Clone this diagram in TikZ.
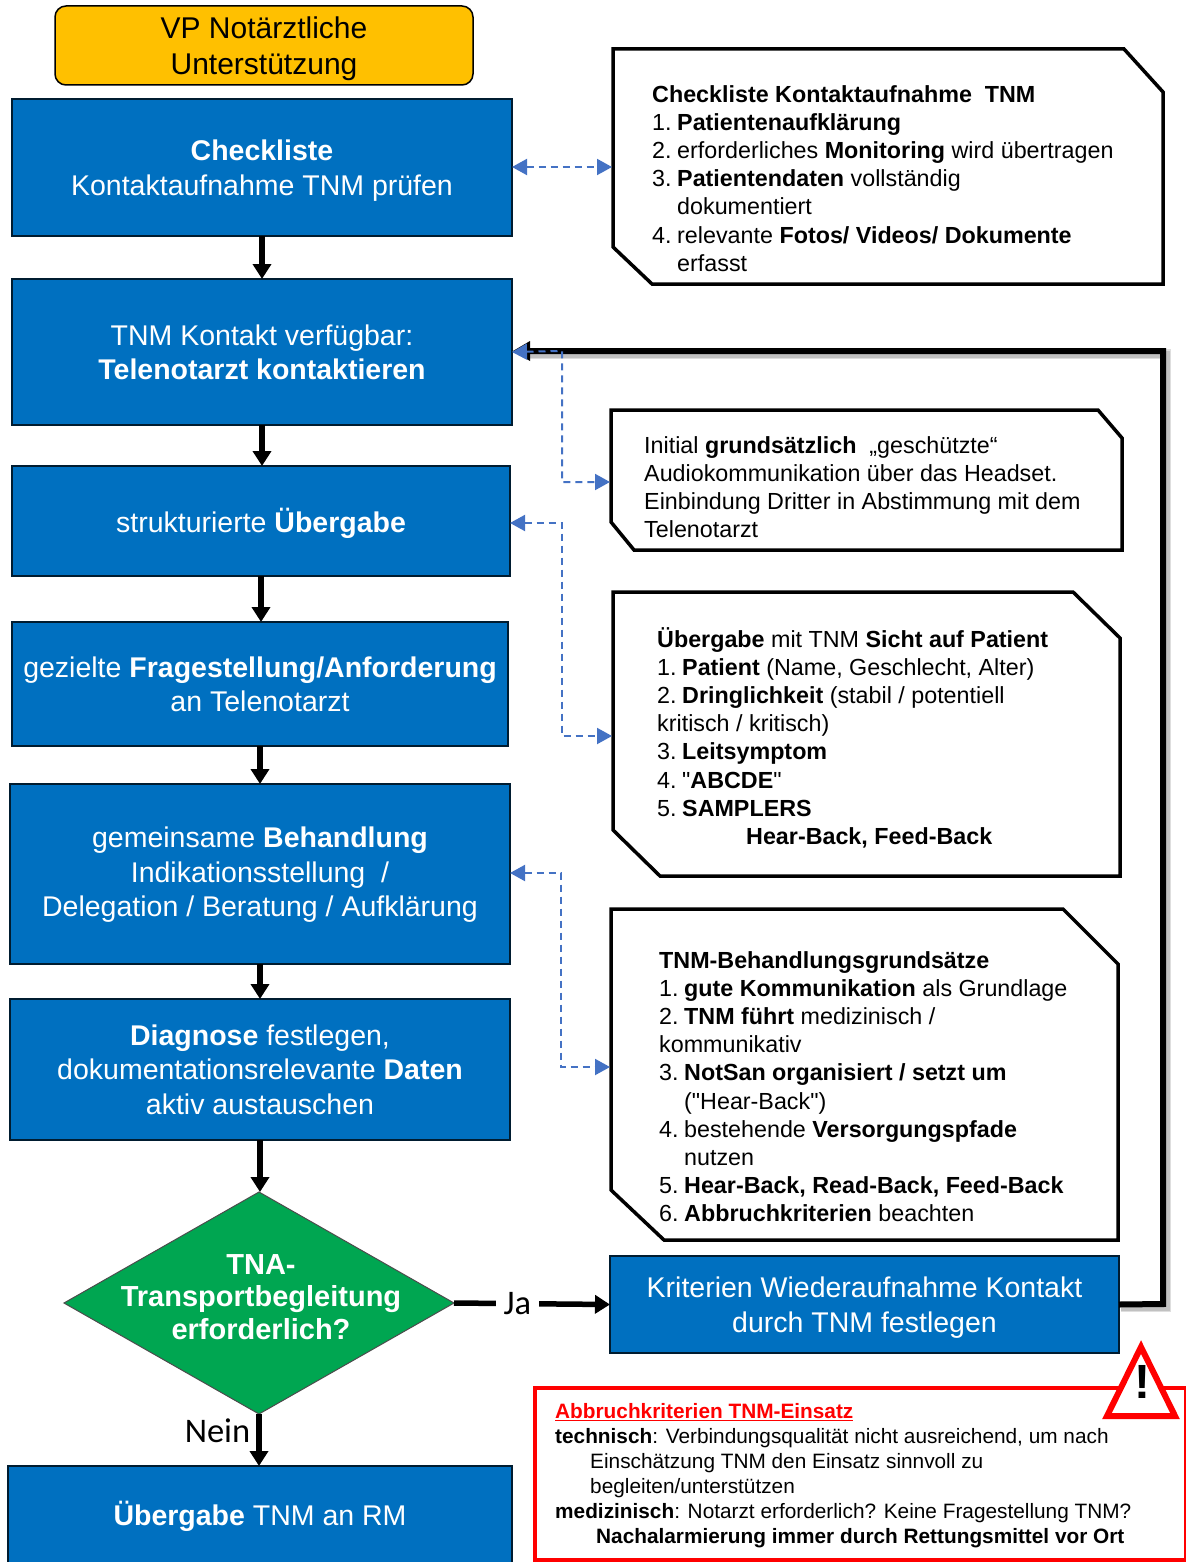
\documentclass[tikz,border=0pt]{standalone}
\usepackage{fontspec}
\setmainfont{Liberation Sans}[Ligatures=TeXOff]
\newfontfamily\carlito{Carlito}
\usepackage{xcolor}
\usetikzlibrary{arrows.meta, shapes.geometric}

\definecolor{boxblue}{HTML}{0070C0}
\definecolor{boxgreen}{HTML}{00A651}
\definecolor{boxorange}{HTML}{FFC000}
\definecolor{dashblue}{HTML}{4472C4}

\newcommand{\nr}[1]{\makebox[25pt][l]{#1}}
\newcommand{\hang}{\hspace*{25pt}}

\tikzset{
  flowbox/.style={rectangle, draw=black!75!boxblue, line width=1.5pt, fill=boxblue, text=white, align=center, inner sep=0pt, outer sep=0pt, font=\fontsize{28.5}{34.5}\selectfont},
  startbox/.style={rectangle, rounded corners=11pt, draw=black, line width=1.5pt, fill=boxorange, align=center, inner sep=0pt, outer sep=0pt, font=\fontsize{30}{36.5}\selectfont},
  decision/.style={diamond, aspect=1.757, draw=black!70, line width=1pt, fill=boxgreen, inner sep=0pt, outer sep=0pt},
  decisiontext/.style={align=center, text=white, inner sep=0pt, font=\bfseries\fontsize{29}{32.5}\selectfont},
  noteline/.style={draw=black, line width=3.5pt, fill=white, line join=miter},
  notetext/.style={anchor=north west, align=left, inner sep=0pt, font=\fontsize{23.3}{28.2}\selectfont},
  abbruchtext/.style={anchor=north west, align=left, inner sep=0pt, font=\fontsize{20.8}{25}\selectfont},
  flowarrow/.style={draw=black, line width=5.5pt, -{Triangle[length=15pt, width=18pt]}},
  flowlabel/.style={inner sep=0pt, font=\carlito\fontsize{34.5}{34.5}\selectfont},
  returnline/.style={draw=black, line width=6pt, line join=miter},
  softshadow/.style={draw=black, opacity=0.13, line join=miter},
  dashlink/.style={draw=dashblue, line width=2pt, dash pattern=on 7pt off 5pt, {Triangle[length=15pt, width=16pt]}-{Triangle[length=15pt, width=16pt]}},
}

\begin{document}
\begin{tikzpicture}[x=1pt, y=-1pt]
\useasboundingbox (0, 0) rectangle (1185, 1562);
%----------------------------------------
\node[startbox, text depth=0pt, minimum width=418pt, minimum height=79pt] (vp) at (264, 45.5) {VP Notärztliche\\Unterstützung};
\node[flowbox, text depth=-2pt, minimum width=500pt, minimum height=137pt] (chk) at (262, 167.5) {\textbf{Checkliste}\\Kontaktaufnahme TNM prüfen};
\node[flowbox, text depth=-2pt, minimum width=500pt, minimum height=146pt] (kon) at (262, 352) {TNM Kontakt verfügbar:\\\textbf{Telenotarzt kontaktieren}};
\node[flowbox, text depth=2pt, minimum width=498pt, minimum height=110pt] (ueb) at (261, 521) {strukturierte \textbf{Übergabe}};
\node[flowbox, text depth=-4pt, minimum width=496pt, minimum height=124pt] (fra) at (260, 684) {gezielte \textbf{Fragestellung/Anforderung}\\an Telenotarzt};
\node[flowbox, text depth=4pt, minimum width=500pt, minimum height=180pt] (beh) at (260, 874) {gemeinsame \textbf{Behandlung}\\Indikationsstellung~~/\\Delegation / Beratung / Aufklärung};
\node[flowbox, minimum width=500pt, minimum height=141pt] (dia) at (260, 1069.5) {\textbf{Diagnose} festlegen,\\dokumentationsrelevante \textbf{Daten}\\aktiv austauschen};
\node[decision, minimum width=390pt, minimum height=222pt] (tna) at (259, 1303) {};
\node[decisiontext] (tnatext) at (261, 1297) {TNA-\\Transportbegleitung\\erforderlich?};
\node[flowbox, text depth=4pt, minimum width=504pt, minimum height=98pt] (rm) at (260, 1515) {\textbf{Übergabe} TNM an RM};
\node[flowbox, text depth=-2pt, minimum width=509pt, minimum height=97pt] (krit) at (864.5, 1304.5) {Kriterien Wiederaufnahme Kontakt\\durch TNM festlegen};
%----------------------------------------
\draw[flowarrow] (chk.south) -- (chk.south |- kon.north);
\draw[flowarrow] (kon.south) -- (kon.south |- ueb.north);
\draw[flowarrow] (ueb.south) -- (ueb.south |- fra.north);
\draw[flowarrow] (fra.south) -- (fra.south |- beh.north);
\draw[flowarrow] (beh.south) -- (beh.south |- dia.north);
\draw[flowarrow] (dia.south) -- (dia.south |- tna.north);
\draw[flowarrow] (tna.south) -- (tna.south |- rm.north) node[flowlabel, pos=0.33, left=6pt] (nein) {Nein};
\draw[flowarrow] (tna.east) -- (krit.west) node[flowlabel, pos=0.406, fill=white, inner xsep=8pt, inner ysep=3pt] (ja) {Ja};
%----------------------------------------
\coordinate (turntop) at (1163, 351);
\coordinate (turnbottom) at (1163, 1304);
\draw[softshadow, line width=10pt] (1121, 1307) -- (1166, 1307) -- (1166, 354) -- (530, 354);
\draw[softshadow, line width=7pt] (1121, 1307) -- (1166, 1307) -- (1166, 354) -- (530, 354);
\draw[returnline] (krit.east) -- (turnbottom) -- (turntop) -- (525, 351);
\fill[black] (513, 351) -- (530, 341) -- (530, 361) -- cycle;
%----------------------------------------
\draw[noteline] (613, 49) -- (1124, 49) -- (1163, 92) -- (1163, 284) -- (652, 284) -- (613, 247) -- cycle;
\draw[noteline] (611, 410) -- (1098, 410) -- (1122, 438) -- (1122, 550) -- (634, 550) -- (611, 522) -- cycle;
\draw[noteline] (613, 592) -- (1073, 592) -- (1120, 638) -- (1120, 876) -- (660, 876) -- (613, 830) -- cycle;
\draw[noteline] (611, 909) -- (1063, 909) -- (1118, 964) -- (1118, 1240) -- (664, 1240) -- (611, 1190) -- cycle;
%----------------------------------------
\node[notetext] (chktext) at (652, 85) {\textbf{Checkliste Kontaktaufnahme~ TNM}\\
\nr{1.}\textbf{Patientenaufklärung}\\
\nr{2.}erforderliches \textbf{Monitoring} wird übertragen\\
\nr{3.}\textbf{Patientendaten} vollständig\\
\hang dokumentiert\\
\nr{4.}relevante \textbf{Fotos/ Videos/ Dokumente}\\
\hang erfasst};
\node[notetext] (inittext) at (644, 436) {Initial \textbf{grundsätzlich}~ „geschützte“\\
Audiokommunikation über das Headset.\\
Einbindung Dritter in Abstimmung mit dem\\
Telenotarzt};
\node[notetext] (sichttext) at (657, 627) {\textbf{Übergabe} mit TNM \textbf{Sicht auf Patient}\\
\nr{1.}\textbf{Patient} (Name, Geschlecht, Alter)\\
\nr{2.}\textbf{Dringlichkeit} (stabil / potentiell\\
kritisch / kritisch)\\
\nr{3.}\textbf{Leitsymptom}\\
\nr{4.}"\textbf{ABCDE}"\\
\nr{5.}\textbf{SAMPLERS}\\
\hspace*{89pt}\textbf{Hear-Back, Feed-Back}};
\node[notetext] (grundtext) at (659, 951) {\textbf{TNM-Behandlungsgrundsätze}\\
\nr{1.}\textbf{gute Kommunikation} als Grundlage\\
\nr{2.}\textbf{TNM führt} medizinisch /\\
kommunikativ\\
\nr{3.}\textbf{NotSan organisiert / setzt um}\\
\hang("Hear-Back")\\
\nr{4.}bestehende \textbf{Versorgungspfade}\\
\hang nutzen\\
\nr{5.}\textbf{Hear-Back, Read-Back, Feed-Back}\\
\nr{6.}\textbf{Abbruchkriterien} beachten};
%----------------------------------------
\coordinate (chkin) at (612, 167);
\coordinate (initin) at (610, 482);
\coordinate (uebout) at (510, 523);
\coordinate (sichtin) at (612, 736);
\coordinate (behout) at (510, 873);
\coordinate (grundin) at (610, 1067);
\draw[dashlink] (chk.east |- chkin) -- (chkin);
\draw[dashlink] (kon.east) -- (562, 351) |- (initin);
\draw[dashlink] (uebout) -- (562, 523) |- (sichtin);
\draw[dashlink] (behout) -- (561, 873) |- (grundin);
%----------------------------------------
\draw[red, line width=4pt] (535, 1388) rectangle (1186, 1560);
\draw[red, line width=6pt, fill=white, line join=miter] (1141, 1347) -- (1175, 1416) -- (1107, 1416) -- cycle;
\node[inner sep=0pt, font=\bfseries\fontsize{48}{48}\selectfont] (warn) at (1142, 1382) {!};
\node[abbruchtext] (abbruch) at (555, 1403.5) {\textcolor{red}{\textbf{\underline{Abbruchkriterien TNM-Einsatz}}}\\
\textbf{technisch}: Verbindungsqualität nicht ausreichend, um nach\\
\hspace*{35pt}Einschätzung TNM den Einsatz sinnvoll zu\\
\hspace*{35pt}begleiten/unterstützen\\
\textbf{medizinisch}: Notarzt erforderlich? Keine Fragestellung TNM?\\
\hspace*{41pt}\textbf{Nachalarmierung immer durch Rettungsmittel vor Ort}};
\end{tikzpicture}
\end{document}
